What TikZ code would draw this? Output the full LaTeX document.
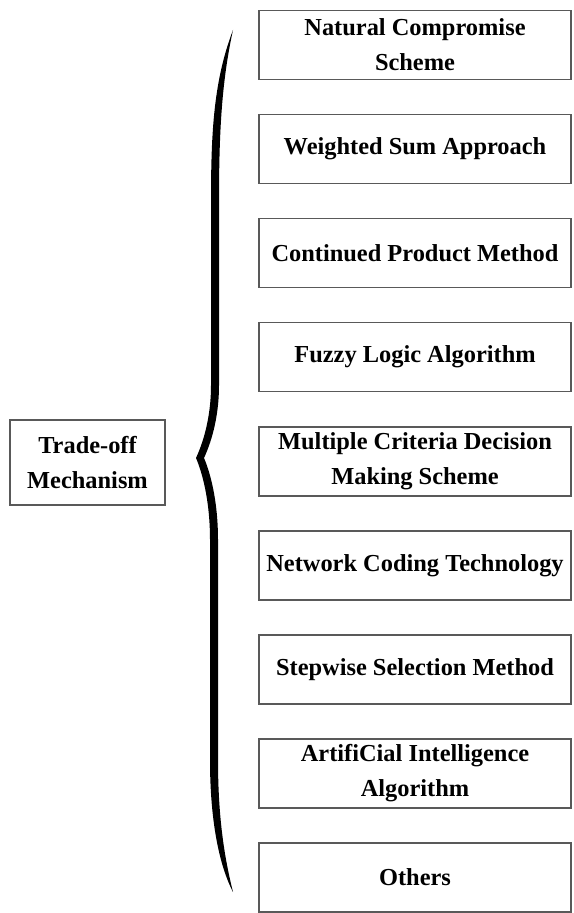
\documentclass[tikz,border=0pt]{standalone}
\usepackage{fontspec}
\setmainfont{Liberation Serif}
\begin{document}
\tikzset{
  box/.style={draw=black!65, line width=0.8pt, align=center, inner sep=0pt,
    font=\bfseries\fontsize{12.2}{17.5}\selectfont},
  methodbox/.style={box, minimum width=156pt, minimum height=34.5pt},
}
\begin{tikzpicture}[x=0.5pt, y=-0.5pt]
\useasboundingbox (0,0) rectangle (573,913);
% left box
\node[box, minimum width=77.5pt, minimum height=42.5pt] (mech) at (87.5,462.5) {Trade-off\\Mechanism};
% the nine methods
\foreach \txt [count=\i] in {{Natural Compromise\\Scheme}, {Weighted Sum Approach},
    {Continued Product Method}, {Fuzzy Logic Algorithm},
    {Multiple Criteria Decision\\Making Scheme}, {Network Coding Technology},
    {Stepwise Selection Method}, {ArtifiCial Intelligence\\Algorithm}, {Others}}
  \node[methodbox] (m\i) at (415,{45+104.06*(\i-1)}) {\txt};
% hand drawn brace
\fill (233,30) .. controls (214,80) and (211,130) .. (211,200) -- (211,385)
  .. controls (211,420) and (202,445) .. (196,458)
  .. controls (202,472) and (210,500) .. (210,540) -- (210,760)
  .. controls (210,820) and (219,865) .. (233,892)
  .. controls (225,860) and (218,820) .. (218,760) -- (218,540)
  .. controls (218,500) and (210,472) .. (204,458)
  .. controls (210,445) and (219,420) .. (219,385) -- (219,200)
  .. controls (219,130) and (222,80) .. (233,30) -- cycle;
\end{tikzpicture}
\end{document}
